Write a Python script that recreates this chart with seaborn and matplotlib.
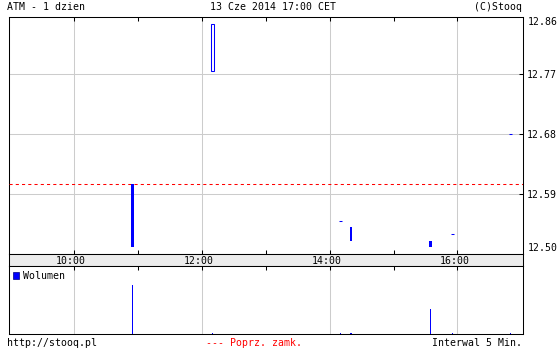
import matplotlib
matplotlib.use("Agg")
import numpy as np
import pandas as pd
import matplotlib.pyplot as plt
import seaborn as sns
from matplotlib.patches import Patch

# ---------------- data ----------------
times = ["10:55", "12:10", "14:10", "14:20", "15:35", "15:55", "16:50"]
opens = [12.605, 12.775, 12.55, 12.54, 12.52, 12.53, 12.68]
closes = [12.51, 12.845, 12.55, 12.52, 12.51, 12.53, 12.68]
volumes = [4900, 120, 120, 120, 2500, 120, 120]
prev_close = 12.605
price_ticks = [12.59, 12.68, 12.77]
price_edge_ticks = [12.86, 12.50]
hour_labels = ["10:00", "12:00", "14:00", "16:00"]
odd_hours = ["11:00", "13:00", "15:00"]
title_left = "ATM - 1 dzien"
title_center = "13 Cze 2014 17:00 CET"
title_right = "(C)Stooq"
footer_left = "http://stooq.pl"
footer_center = "--- Poprz. zamk."
footer_right = "Interwal 5 Min."
volume_label = "Wolumen"


def to_min(s):
    h, m = s.split(":")
    return int(h) * 60 + int(m)


df = pd.DataFrame({
    "t": [to_min(t) for t in times],
    "open": opens,
    "close": closes,
    "volume": volumes,
})
major_x = [to_min(h) for h in hour_labels]
minor_x = [to_min(h) for h in odd_hours]

# ---------------- style ----------------
sns.set_theme(style="white")
plt.rcParams["font.family"] = ["DejaVu Sans Mono", "DejaVu Sans"]
plt.rcParams["text.color"] = "black"
plt.rcParams["xtick.color"] = "black"
plt.rcParams["ytick.color"] = "black"
plt.rcParams["xtick.labelcolor"] = "black"
plt.rcParams["ytick.labelcolor"] = "black"
FS = 7.1
BLUE = "#0000ff"
GRID = "#cccccc"
W, H = 560, 350

fig = plt.figure(figsize=(W / 100, H / 100), dpi=100)
fig.patch.set_facecolor("white")


def rect(x0, y0, x1, y1):
    return [x0 / W, 1 - y1 / H, (x1 - x0) / W, (y1 - y0) / H]


axp = fig.add_axes(rect(8.5, 16.5, 523, 254))
axb = fig.add_axes(rect(8.5, 254, 523, 266))
axv = fig.add_axes(rect(8.5, 266, 523, 334))

XLIM = (538.5, 1021.5)

for ax in (axp, axb, axv):
    for sp in ax.spines.values():
        sp.set_color("black")
        sp.set_linewidth(0.75)
        sp.set_visible(True)

# ---------------- price panel ----------------
axp.set_xlim(*XLIM)
axp.set_ylim(12.50, 12.8563)
axp.set_facecolor("white")
axp.set_xticks(major_x)
axp.set_xticks(minor_x, minor=True)
axp.tick_params(axis="x", which="both", direction="in", top=True, bottom=True,
                length=3, width=0.75, color="black", labelbottom=False, labeltop=False)
axp.set_yticks(price_ticks)
axp.yaxis.tick_right()
axp.tick_params(axis="y", direction="in", left=False, right=True, length=3,
                width=0.75, color="black", labelright=True, labelleft=False,
                labelsize=FS, pad=3, labelcolor="black")
axp.set_yticklabels([f"{v:.2f}" for v in price_ticks])
axp.grid(True, which="major", color=GRID, linewidth=0.75)
axp.grid(False, which="minor")
axp.set_axisbelow(True)

# edge labels, clamped inside the panel
axp.annotate(f"{price_edge_ticks[0]:.2f}", xy=(1, price_edge_ticks[0]),
             xycoords=("axes fraction", "data"), xytext=(3.1, -6),
             textcoords="offset points", ha="left", va="center", fontsize=FS,
             color="black")
axp.annotate(f"{price_edge_ticks[1]:.2f}", xy=(1, price_edge_ticks[1]),
             xycoords=("axes fraction", "data"), xytext=(3.1, 4.5),
             textcoords="offset points", ha="left", va="center", fontsize=FS,
             color="black")

# previous close
axp.axhline(prev_close, color="red", lw=0.75, linestyle=(0, (3, 3)), zorder=3)

# candles
down = df[df["close"] < df["open"]]
up = df[df["close"] > df["open"]]
flat = df[df["close"] == df["open"]]
axp.bar(down["t"], down["open"] - down["close"], bottom=down["close"],
        width=2.6, color=BLUE, linewidth=0, zorder=4)
axp.bar(up["t"], up["close"] - up["open"], bottom=up["open"],
        width=2.0, facecolor="white", edgecolor=BLUE, linewidth=0.75, zorder=4)
axp.hlines(flat["close"], flat["t"] - 1.4, flat["t"] + 1.4, color=BLUE,
           linewidth=0.75, zorder=4)

# ---------------- band with time labels ----------------
axb.set_xlim(*XLIM)
axb.set_ylim(0, 1)
axb.set_facecolor("#ececec")
axb.set_xticks([])
axb.set_yticks([])
for lab, xm in zip(hour_labels, major_x):
    axb.text(xm - 3, 0.45, lab, ha="center", va="center", fontsize=FS,
             color="black")

# ---------------- volume panel ----------------
sns.barplot(data=df, x="t", y="volume", native_scale=True, width=0.1,
            color=BLUE, saturation=1, linewidth=0, errorbar=None, ax=axv)
axv.set_xlim(*XLIM)
axv.set_ylim(0, 6800)
axv.set_xlabel("")
axv.set_ylabel("")
axv.set_yticks([])
axv.set_xticks(major_x)
axv.set_xticks(minor_x, minor=True)
axv.tick_params(axis="x", which="both", direction="in", top=True, bottom=False,
                length=3, width=0.75, color="black", labelbottom=False, labeltop=False)
axv.grid(True, axis="x", which="major", color=GRID, linewidth=0.75)
axv.grid(False, which="minor")
axv.set_axisbelow(True)
leg = axv.legend(handles=[Patch(facecolor=BLUE, edgecolor="#000080", linewidth=0.5)],
                 labels=[volume_label], loc="upper left", bbox_to_anchor=(0, 1),
                 frameon=False, fontsize=FS, handlelength=0.6, handleheight=0.6,
                 handletextpad=0.4, borderaxespad=0.3, borderpad=0.2)
for t in leg.get_texts():
    t.set_color("black")

# ---------------- header / footer ----------------
fig.text(7 / W, 1 - 7 / H, title_left, ha="left", va="center", fontsize=FS, color="black")
fig.text(273 / W, 1 - 7 / H, title_center, ha="center", va="center", fontsize=FS, color="black")
fig.text(522 / W, 1 - 7 / H, title_right, ha="right", va="center", fontsize=FS, color="black")
fig.text(7 / W, 1 - 343 / H, footer_left, ha="left", va="center", fontsize=FS, color="black")
fig.text(254 / W, 1 - 343 / H, footer_center, ha="center", va="center",
         fontsize=FS, color="red")
fig.text(522 / W, 1 - 343 / H, footer_right, ha="right", va="center", fontsize=FS, color="black")

fig.savefig("out.png", dpi=100, facecolor="white")
